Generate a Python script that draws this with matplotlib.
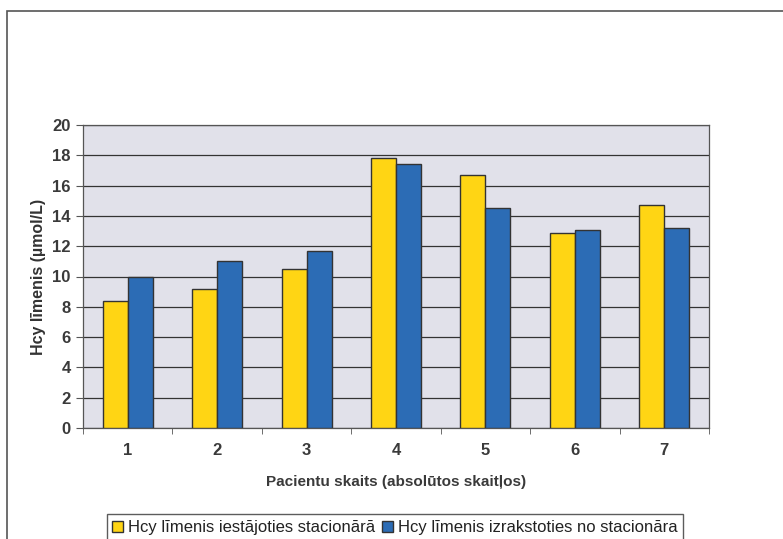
import matplotlib.pyplot as plt
import numpy as np
from matplotlib.patches import Rectangle

plt.rcParams['font.family'] = ['Liberation Sans', 'DejaVu Sans']

# Hcy levels per patient
patients = ['1', '2', '3', '4', '5', '6', '7']
hcy_admission = [8.4, 9.2, 10.5, 17.8, 16.7, 12.9, 14.7]
hcy_discharge = [10.0, 11.0, 11.7, 17.4, 14.5, 13.1, 13.2]

label_admission = 'Hcy līmenis iestājoties stacionārā'
label_discharge = 'Hcy līmenis izrakstoties no stacionāra'

fig = plt.figure(figsize=(7.83, 5.39), dpi=100)
ax = fig.add_axes([83 / 783, 1 - 428 / 539, (709 - 83) / 783, (428 - 125) / 539])

# outer frame of the chart area
fig.patches.append(Rectangle((7 / 783, -0.05), 1.1, 1 - 11 / 539 + 0.05,
                             transform=fig.transFigure, fill=False,
                             edgecolor='#555555', linewidth=1.2))

x = np.arange(len(patients))
w = 0.28
ax.set_facecolor('#E1E1EA')
ax.bar(x - w / 2, hcy_admission, w, color='#FFD514', edgecolor='#333333',
       linewidth=1.0, label=label_admission, zorder=3)
ax.bar(x + w / 2, hcy_discharge, w, color='#2C6CB5', edgecolor='#333333',
       linewidth=1.0, label=label_discharge, zorder=3)

ax.set_xlim(-0.5, len(patients) - 0.5)
ax.set_ylim(0, 20)
ax.set_yticks(range(0, 21, 2))
ax.yaxis.grid(True, color='#333333', linewidth=0.9, zorder=0)
ax.set_axisbelow(True)

ax.set_xticks(x)
ax.set_xticklabels(patients)
ax.set_xticks(np.arange(-0.5, len(patients)), minor=True)
ax.tick_params(axis='x', which='major', length=0, pad=11)
ax.tick_params(axis='x', which='minor', length=4, color='#555555')
ax.tick_params(axis='y', length=5, color='#555555', pad=4)
for lbl in ax.get_xticklabels() + ax.get_yticklabels():
    lbl.set_fontsize(12)
    lbl.set_fontweight('bold')
    lbl.set_color('#3a3a3a')

for side in ['top', 'right', 'left', 'bottom']:
    ax.spines[side].set_color('#555555')
    ax.spines[side].set_linewidth(0.9)

ax.set_ylabel('Hcy līmenis (µmol/L)', fontsize=11.5, fontweight='bold',
              color='#333333', labelpad=4)
ax.set_xlabel('Pacientu skaits (absolūtos skaitļos)', fontsize=11,
              fontweight='bold', color='#3a3a3a', labelpad=12)

leg = fig.legend(loc='lower center', bbox_to_anchor=(395 / 783, -0.004), ncol=2,
                 fontsize=12, frameon=True, fancybox=False, handlelength=0.65,
                 handleheight=0.65, handletextpad=0.3, columnspacing=0.4,
                 borderpad=0.35, borderaxespad=0)
leg.get_frame().set_edgecolor('#333333')
leg.get_frame().set_linewidth(1.0)
for t in leg.get_texts():
    t.set_color('#222222')

fig.savefig('out.png', dpi=100, facecolor='white')
